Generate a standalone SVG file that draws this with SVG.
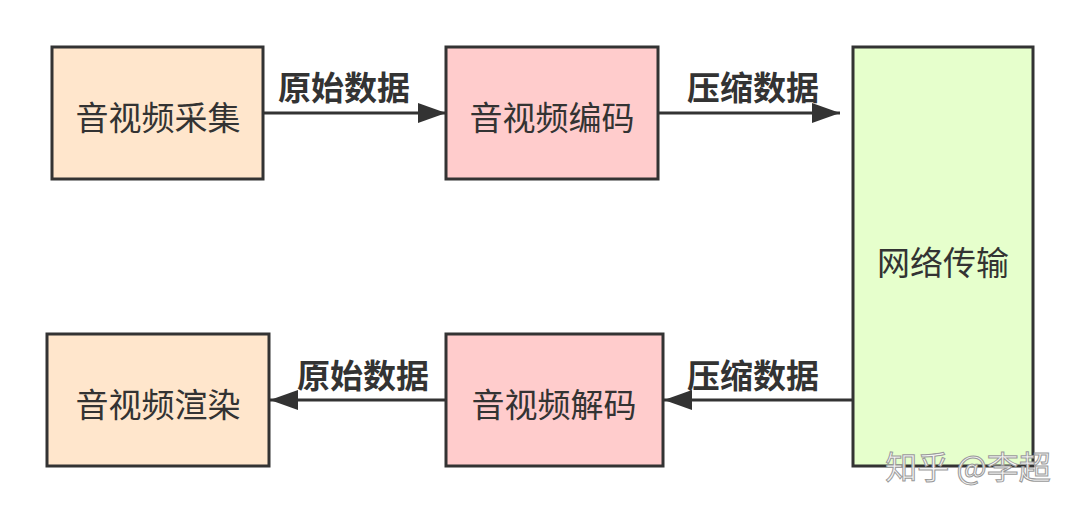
<svg xmlns="http://www.w3.org/2000/svg" width="1080" height="514" viewBox="0 0 1080 514">
<defs>
<style>
.node{stroke:#333;stroke-width:3}
.t{font-family:"Noto Sans CJK SC","Noto Sans",sans-serif;font-size:33px;fill:#333;text-anchor:middle;dominant-baseline:central}
.lbl{font-family:"Noto Sans CJK SC","Noto Sans",sans-serif;font-size:33px;font-weight:bold;fill:#333;text-anchor:middle}
.edge{stroke:#333;stroke-width:3;fill:none}
</style>
<marker id="ah" markerUnits="userSpaceOnUse" markerWidth="30" markerHeight="22" refX="28" refY="10" orient="auto">
<path d="M0,0 L28,10 L0,20 Z" fill="#333"/>
</marker>
</defs>
<rect width="1080" height="514" fill="#fff"/>
<g id="connectors">
<line class="edge" x1="263" y1="113" x2="446" y2="113" marker-end="url(#ah)"/>
<line class="edge" x1="658" y1="113" x2="840" y2="113" marker-end="url(#ah)"/>
<line class="edge" x1="853" y1="400" x2="664" y2="400" marker-end="url(#ah)"/>
<line class="edge" x1="446" y1="400" x2="270" y2="400" marker-end="url(#ah)"/>
<text class="lbl" x="344" y="100">原始数据</text>
<text class="lbl" x="753" y="100">压缩数据</text>
<text class="lbl" x="363" y="388">原始数据</text>
<text class="lbl" x="753" y="388">压缩数据</text>
</g>
<g id="capture">
<rect class="node" x="52" y="47" width="211" height="132" fill="#FFE6CC"/>
<text class="t" x="158" y="116">音视频采集</text>
</g>
<g id="encode">
<rect class="node" x="446" y="47" width="212" height="132" fill="#FFCCCC"/>
<text class="t" x="552" y="116">音视频编码</text>
</g>
<g id="network">
<rect class="node" x="853" y="47" width="180" height="419" fill="#E6FFCC"/>
<text class="t" x="943" y="261">网络传输</text>
</g>
<g id="decode">
<rect class="node" x="446" y="334" width="217" height="132" fill="#FFCCCC"/>
<text class="t" x="554" y="403">音视频解码</text>
</g>
<g id="render">
<rect class="node" x="47" y="334" width="222" height="132" fill="#FFE6CC"/>
<text class="t" x="158" y="403">音视频渲染</text>
</g>
<text x="968" y="479" font-family="Noto Sans CJK SC,sans-serif" font-size="32" fill="#f4f4f4" stroke="#9a9a9a" stroke-width="1" text-anchor="middle">知乎 @李超</text>
</svg>
